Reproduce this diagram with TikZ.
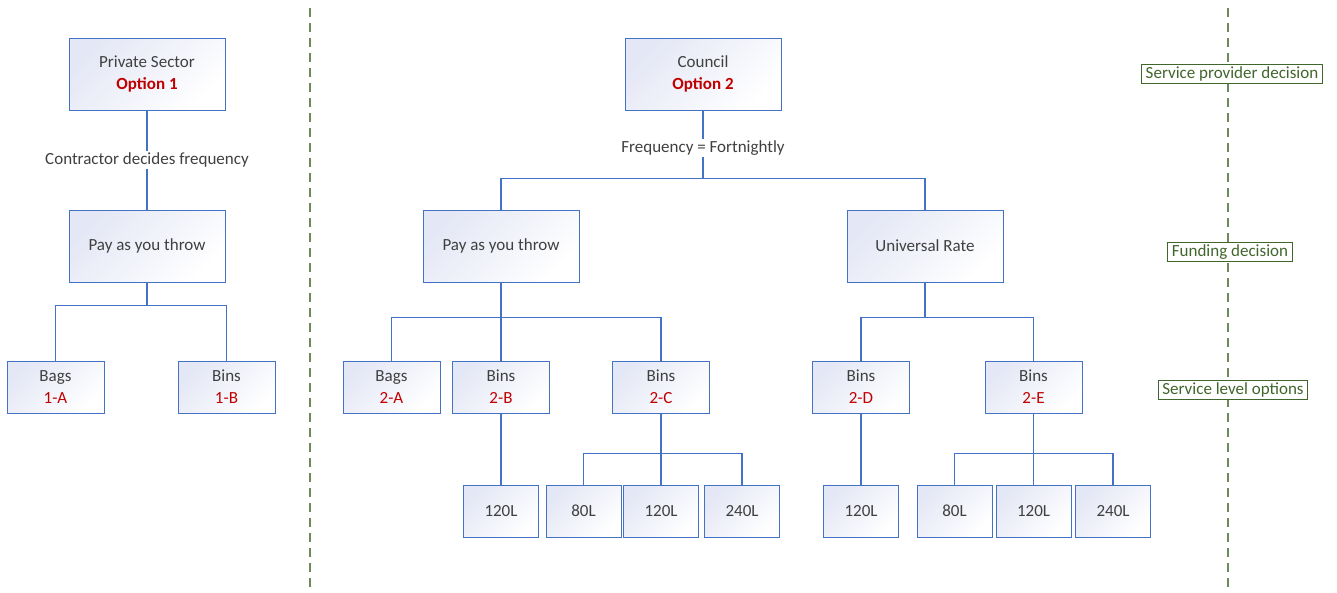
\documentclass[tikz,border=0pt]{standalone}
\usepackage{fontspec}
\setmainfont{Carlito}
\usetikzlibrary{positioning}
\definecolor{boxblue}{HTML}{4472C4}
\definecolor{boxfill}{HTML}{E4E7F5}
\definecolor{optred}{HTML}{C00000}
\definecolor{txtgray}{HTML}{404040}
\definecolor{stagegreen}{HTML}{41662C}
\definecolor{dashgreen}{HTML}{6E8A58}

\begin{document}
\begin{tikzpicture}[
    x=1pt, y=-1pt,
    every node/.style={text=txtgray, font=\fontsize{17}{22}\selectfont, align=center},
    box/.style={draw=boxblue, line width=1pt, top color=boxfill, bottom color=white, shading angle=45, inner sep=0pt},
    bigbox/.style={box, minimum width=156pt, minimum height=72pt},
    midbox/.style={box, minimum width=97pt, minimum height=52pt},
    sizebox/.style={box, minimum width=75pt, minimum height=52pt},
    link/.style={draw=boxblue, line width=1.3pt},
    lbl/.style={fill=white, inner sep=2pt},
    stage/.style={draw=stagegreen, fill=white, text=stagegreen, inner xsep=4pt, inner ysep=2pt, line width=1pt},
    divider/.style={draw=dashgreen, dash pattern=on 9pt off 6pt, line width=1.3pt}
]
\useasboundingbox (0,0) rectangle (1337,592);

% dividers
\draw[divider] (310,8) -- (310,592);
\draw[divider] (1228,8) -- (1228,592);

% option 1
\node[bigbox] (private) at (147,74) {Private Sector\\\textbf{\color{optred}Option 1}};
\node[bigbox] (paythrowA) at (147,246) {Pay as you throw};
\node[midbox] (bags1A) at (55.5,387) {Bags\\{\color{optred}1-A}};
\node[midbox] (bins1B) at (226.5,387) {Bins\\{\color{optred}1-B}};

% option 2
\node[bigbox] (council) at (703,74) {Council\\\textbf{\color{optred}Option 2}};
\node[bigbox] (paythrowB) at (501,246) {Pay as you throw};
\node[bigbox] (universal) at (925,246) {Universal Rate};

\node[midbox] (bags2A) at (391.5,387) {Bags\\{\color{optred}2-A}};
\node[midbox] (bins2B) at (501,387) {Bins\\{\color{optred}2-B}};
\node[midbox] (bins2C) at (661,387) {Bins\\{\color{optred}2-C}};
\node[midbox] (bins2D) at (861,387) {Bins\\{\color{optred}2-D}};
\node[midbox] (bins2E) at (1033.5,387) {Bins\\{\color{optred}2-E}};

\node[sizebox] (litre2B) at (501,511) {120L};
\node[sizebox] (litre2Ca) at (583.5,511) {80L};
\node[sizebox] (litre2Cb) at (661,511) {120L};
\node[sizebox] (litre2Cc) at (742,511) {240L};
\node[sizebox] (litre2D) at (861,511) {120L};
\node[sizebox] (litre2Ea) at (954.5,511) {80L};
\node[sizebox] (litre2Eb) at (1033.5,511) {120L};
\node[sizebox] (litre2Ec) at (1113,511) {240L};

% stage labels
\node[stage] (provider) at (1232,74) {Service provider decision};
\node[stage] (funding) at (1230,252) {Funding decision};
\node[stage] (service) at (1233,390) {Service level options};

% connectors
\draw[link] (private) -- node[lbl] {Contractor decides frequency} (paythrowA);
\draw[link] (paythrowA.south) -- ++(0,23) coordinate (splitA) -| (bags1A.north);
\draw[link] (splitA) -| (bins1B.north);

\draw[link] (council.south) -- node[lbl, pos=0.55] {Frequency = Fortnightly} ++(0,68) coordinate (splitC);
\draw[link] (splitC) -| (paythrowB.north);
\draw[link] (splitC) -| (universal.north);

\draw[link] (paythrowB.south) -- ++(0,35) coordinate (splitB) -| (bags2A.north);
\draw[link] (splitB) -| (bins2B.north);
\draw[link] (splitB) -| (bins2C.north);

\draw[link] (universal.south) -- ++(0,35) coordinate (splitU) -| (bins2D.north);
\draw[link] (splitU) -| (bins2E.north);

\draw[link] (bins2B) -- (litre2B);
\draw[link] (bins2C.south) -- ++(0,40) coordinate (split2C) -| (litre2Ca.north);
\draw[link] (split2C) -- (litre2Cb);
\draw[link] (split2C) -| (litre2Cc.north);

\draw[link] (bins2D) -- (litre2D);
\draw[link] (bins2E.south) -- ++(0,40) coordinate (split2E) -| (litre2Ea.north);
\draw[link] (split2E) -- (litre2Eb);
\draw[link] (split2E) -| (litre2Ec.north);

\end{tikzpicture}
\end{document}
